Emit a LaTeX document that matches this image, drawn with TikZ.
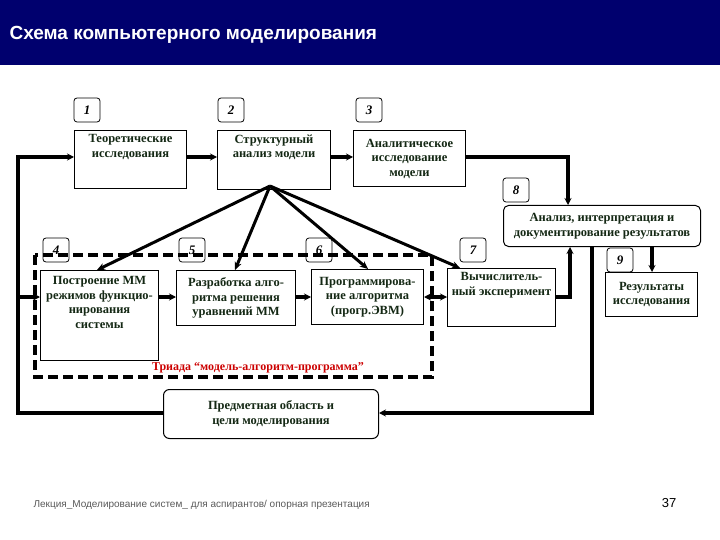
\documentclass[tikz,border=0pt]{standalone}
\usepackage{fontspec}
\setmainfont{Liberation Serif}
\newfontfamily\sansf{Liberation Sans}
\usetikzlibrary{arrows.meta}
\definecolor{navy}{RGB}{0,0,110}
\definecolor{txt}{RGB}{20,40,20}
\begin{document}
\begin{tikzpicture}[x=1pt,y=-1pt,
  box/.style={draw,line width=1pt,align=center,inner xsep=1pt,inner ysep=4pt,font=\bfseries\fontsize{12.5}{14.5}\selectfont,text=txt},
  lab/.style={draw,rounded corners=3pt,line width=0.8pt,minimum width=26pt,minimum height=24pt,font=\itshape\bfseries\fontsize{13}{13}\selectfont},
  arr/.style={line width=4pt,-{Stealth[length=7pt,width=7pt]}},
  fan/.style={line width=3pt,-{Stealth[length=8pt,width=7pt]}}]
\useasboundingbox (0,0) rectangle (720,540);
\fill[navy] (0,0) rectangle (720,65);
\node[anchor=west,text=white,font=\sansf\bfseries\fontsize{19}{19}\selectfont] (title) at (6,35) {Схема компьютерного моделирования};
% labels
\node[lab] (l1) at (87,110) {1};
\node[lab] (l2) at (231,110) {2};
\node[lab] (l3) at (369,110) {3};
\node[lab] (l8) at (516,190) {8};
\node[lab] (l9) at (620,260) {9};
\node[lab] (l7) at (473,250) {7};
\node[lab] (l4) at (56,250) {4};
\node[lab] (l5) at (192,250) {5};
\node[lab] (l6) at (319,250) {6};
% dashed
\draw[line width=4pt,dash pattern=on 10pt off 5pt] (35,255) rectangle (432,377);
% boxes
\node[box,fill=white,minimum width=112pt,minimum height=56pt,anchor=north west] (b1) at (74,130) {Теоретические\\исследования\\[13pt]};
\node[box,fill=white,minimum width=113pt,minimum height=56pt,anchor=north west] (b2) at (217,130) {Структурный\\анализ модели\\[13pt]};
\node[box,fill=white,minimum width=112pt,minimum height=56pt,anchor=north west] (b3) at (353,130) {Аналитическое\\исследование\\модели};
\node[box,fill=white,rounded corners=5pt,minimum width=197pt,minimum height=41pt,anchor=north west] (b8) at (503,205) {Анализ, интерпретация и\\документирование результатов};
\node[box,fill=white,minimum width=92pt,minimum height=44pt,anchor=north west] (b9) at (605,272) {Результаты\\исследования};
\node[box,fill=white,minimum width=108pt,minimum height=55pt,anchor=north west] (b7) at (447,268) {Вычислитель-\\ный эксперимент\\[13pt]};
\node[box,fill=white,minimum width=118pt,minimum height=90pt,anchor=north west] (b4) at (40,270) {Построение ММ\\режимов функцио-\\нирования\\системы\\[12pt]};
\node[box,fill=white,minimum width=119pt,minimum height=55pt,anchor=north west] (b5) at (176,270) {Разработка алго-\\ритма решения\\уравнений ММ};
\node[box,fill=white,minimum width=112pt,minimum height=55pt,anchor=north west] (b6) at (311,269) {Программирова-\\ние алгоритма\\(прогр.ЭВМ)};
\node[box,fill=white,rounded corners=6pt,minimum width=215pt,minimum height=49pt,anchor=north west] (b10) at (163,389) {Предметная область и\\цели моделирования};
\node[text=red!80!black,font=\bfseries\fontsize{12}{12}\selectfont] (triad) at (258,368) {Триада “модель-алгоритм-программа”};
% coordinates
\coordinate (c1) at (18,413);
\coordinate (c2) at (18,157);
\coordinate (c3) at (18,297);
\coordinate (c4) at (568,157);
\coordinate (c5) at (570,297);
\coordinate (c6) at (592,413);
% arrows
\draw[arr] (b1.east |- 0,157) -- (b2.west |- 0,157);
\draw[arr] (b2.east |- 0,157) -- (b3.west |- 0,157);
\draw[arr] (b3.east |- 0,157) -- (c4) -- (c4 |- b8.north);
\draw[arr] (b4.east |- 0,297) -- (b5.west |- 0,297);
\draw[arr] (b5.east |- 0,297) -- (b6.west |- 0,297);
\draw[line width=4pt,{Stealth[length=7pt,width=7pt]}-{Stealth[length=7pt,width=7pt]}] (b6.east |- 0,297) -- (b7.west |- 0,297);
\draw[arr] (b7.east |- 0,297) -- (c5) -- (c5 |- b8.south);
\draw[arr] (b8.south -| 652,0) -- (b9.north -| 652,0);
\draw[arr] (b8.south -| c6) -- (c6) -- (b10.east |- c6);
\draw[arr] (b10.west |- c1) -- (c1) -- (c2) -- (b1.west |- c2);
\draw[arr] (c3) -- (b4.west |- c3);
\coordinate (f) at (270,186);
\draw[fan] (f) -- (97,270);
\draw[fan] (f) -- (235,270);
\draw[fan] (f) -- (368,269);
\draw[fan] (f) -- (460,268);
% footer
\node[anchor=west,text=gray!70!black,font=\sansf\fontsize{10}{10}\selectfont] (foot) at (30,505) {Лекция\_Моделирование систем\_ для аспирантов/ опорная презентация};
\node[font=\sansf\fontsize{13}{13}\selectfont] (pg) at (669,503) {37};
\end{tikzpicture}
\end{document}
